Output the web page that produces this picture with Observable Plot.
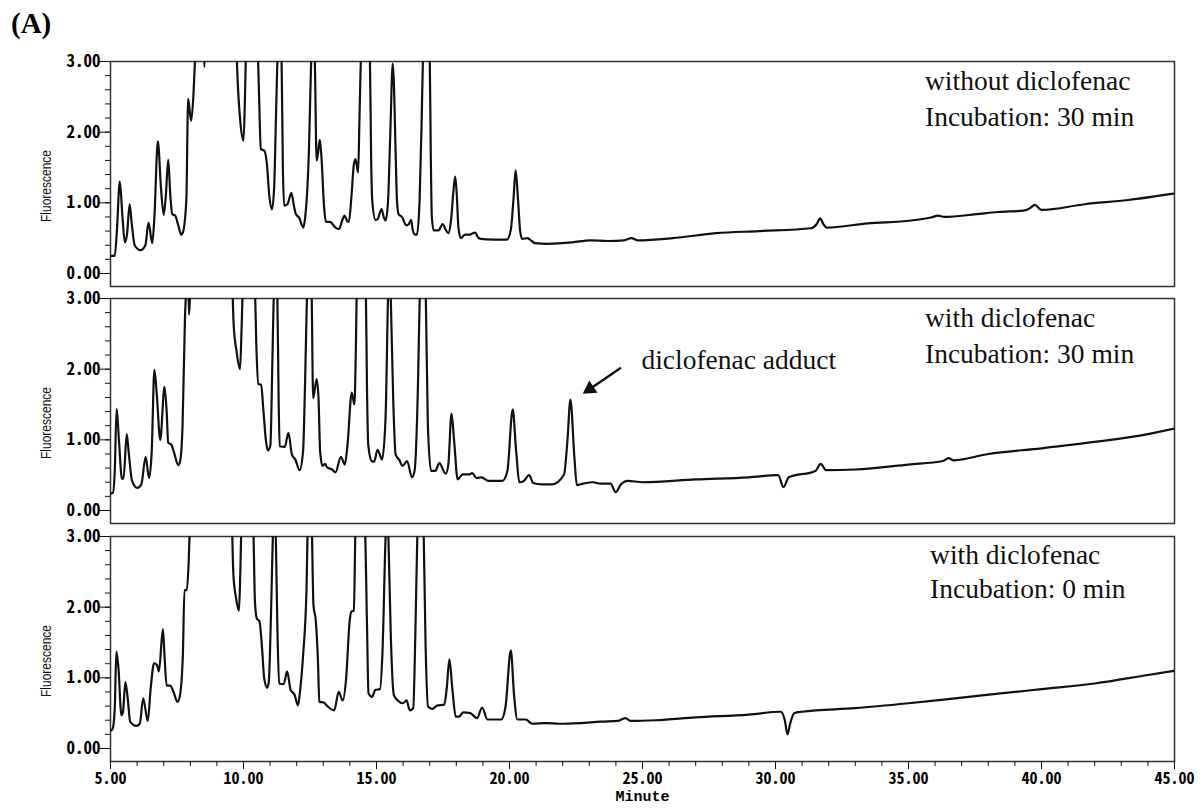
<!DOCTYPE html>
<html><head><meta charset="utf-8">
<script src="https://cdn.jsdelivr.net/npm/d3@7"></script>
<script src="https://cdn.jsdelivr.net/npm/@observablehq/plot@0.6"></script>
<style>
body{margin:0;background:#fff;}
#wrap{position:relative;width:1200px;height:809px;overflow:hidden;background:#fff;}
.panel{position:absolute;left:0;}
#tag{position:absolute;left:11px;top:7px;font:bold 29px "Liberation Serif","Times New Roman",serif;color:#000;}
</style></head><body>
<div id="wrap"><div id="tag">(A)</div></div>
<script>
// ---- data: [retention time (min), fluorescence] ----
const traceWithout30 = [[5.00,0.25],[5.16,0.25],[5.24,0.60],[5.35,1.30],[5.45,0.80],[5.54,0.44],[5.62,0.55],[5.72,0.98],[5.80,0.70],[5.91,0.40],[6.13,0.33],[6.31,0.40],[6.43,0.72],[6.57,0.43],[6.65,0.80],[6.78,1.87],[6.90,1.20],[7.00,0.83],[7.08,1.10],[7.17,1.61],[7.25,1.10],[7.32,0.84],[7.43,0.82],[7.55,0.68],[7.66,0.55],[7.72,0.58],[7.85,1.03],[7.92,2.47],[8.03,2.16],[8.12,2.54],[8.18,3.05],[8.25,3.8],[8.45,3.8],[8.53,2.92],[8.60,3.8],[9.5,4.0],[9.70,3.5],[9.78,2.73],[9.88,2.15],[10.00,1.88],[10.05,2.4],[10.09,3.1],[10.2,4.0],[10.5,3.5],[10.55,3.0],[10.59,2.45],[10.65,1.76],[10.78,1.74],[10.88,1.55],[10.97,1.10],[11.07,0.91],[11.15,1.2],[11.22,2.2],[11.28,3.1],[11.35,3.5],[11.43,3.05],[11.48,1.5],[11.53,0.96],[11.65,0.98],[11.80,1.14],[11.90,0.95],[11.97,0.84],[12.09,0.79],[12.25,0.65],[12.32,0.80],[12.40,1.20],[12.46,1.74],[12.55,3.1],[12.62,3.6],[12.68,3.05],[12.75,1.60],[12.80,1.70],[12.87,1.89],[12.93,1.65],[13.03,0.94],[13.10,0.73],[13.25,0.73],[13.46,0.65],[13.59,0.63],[13.72,0.76],[13.80,0.82],[13.90,0.74],[13.96,0.73],[14.06,1.10],[14.15,1.55],[14.21,1.62],[14.27,1.50],[14.31,1.43],[14.36,2.2],[14.42,3.1],[14.6,3.8],[14.75,3.1],[14.80,1.6],[14.84,1.03],[14.96,0.76],[15.04,0.77],[15.19,0.91],[15.27,0.80],[15.34,0.75],[15.43,1.00],[15.52,2.0],[15.61,2.97],[15.65,2.73],[15.72,1.70],[15.77,1.03],[15.83,0.84],[15.96,0.80],[16.12,0.68],[16.22,0.70],[16.30,0.76],[16.36,0.62],[16.45,0.55],[16.52,0.55],[16.62,1.03],[16.70,2.2],[16.75,3.1],[16.87,3.8],[17.00,3.1],[17.04,1.7],[17.08,0.80],[17.15,0.61],[17.33,0.61],[17.49,0.70],[17.60,0.62],[17.70,0.57],[17.80,0.75],[17.90,1.20],[17.96,1.37],[18.02,1.10],[18.08,0.65],[18.17,0.50],[18.33,0.55],[18.50,0.55],[18.71,0.58],[18.80,0.52],[18.90,0.49],[19.40,0.48],[19.90,0.48],[20.05,0.62],[20.15,1.05],[20.23,1.46],[20.32,1.05],[20.40,0.60],[20.48,0.49],[20.68,0.50],[20.77,0.48],[20.96,0.43],[21.40,0.42],[22.37,0.44],[23.03,0.47],[23.69,0.46],[24.30,0.47],[24.58,0.50],[24.83,0.47],[26.13,0.50],[27.76,0.57],[29.39,0.60],[31.34,0.64],[31.55,0.70],[31.68,0.78],[31.80,0.70],[31.92,0.65],[33.47,0.71],[35.10,0.75],[35.92,0.80],[36.10,0.82],[36.35,0.80],[37.55,0.84],[38.36,0.87],[39.33,0.89],[39.55,0.92],[39.75,0.97],[40.00,0.90],[41.62,0.98],[43.26,1.04],[44.96,1.13]];

const traceWith30 = [[5.00,0.24],[5.09,0.25],[5.16,0.56],[5.23,1.44],[5.32,0.98],[5.43,0.45],[5.49,0.45],[5.61,1.08],[5.68,0.84],[5.81,0.42],[6.01,0.32],[6.16,0.37],[6.32,0.76],[6.45,0.46],[6.55,0.84],[6.65,1.99],[6.74,1.64],[6.87,1.00],[7.03,1.75],[7.11,1.41],[7.17,0.96],[7.29,0.93],[7.39,0.82],[7.55,0.64],[7.62,0.70],[7.71,1.22],[7.80,2.73],[7.84,3.1],[7.90,3.6],[7.95,2.77],[8.00,3.1],[8.2,4.0],[9.4,4.0],[9.59,3.05],[9.63,2.63],[9.74,2.25],[9.87,2.00],[9.93,2.6],[9.97,3.1],[10.2,4.0],[10.43,3.1],[10.49,2.25],[10.56,1.79],[10.66,1.78],[10.75,1.41],[10.84,1.00],[10.92,0.85],[11.01,0.92],[11.08,2.0],[11.14,3.1],[11.2,3.6],[11.27,3.1],[11.32,1.6],[11.36,0.91],[11.55,0.90],[11.69,1.10],[11.82,0.79],[11.95,0.72],[12.11,0.57],[12.24,0.84],[12.32,1.9],[12.39,3.1],[12.48,3.8],[12.56,3.1],[12.62,1.59],[12.75,1.86],[12.82,1.59],[12.88,0.84],[12.97,0.63],[13.07,0.66],[13.14,0.61],[13.33,0.58],[13.46,0.54],[13.66,0.76],[13.81,0.65],[13.91,0.93],[14.07,1.67],[14.17,1.50],[14.22,2.2],[14.26,3.1],[14.45,3.8],[14.60,3.1],[14.64,1.8],[14.69,0.93],[14.82,0.70],[14.91,0.69],[15.04,0.86],[15.21,0.72],[15.34,1.31],[15.44,3.1],[15.49,3.5],[15.53,3.1],[15.63,1.55],[15.72,0.79],[15.85,0.72],[15.98,0.63],[16.15,0.70],[16.33,0.47],[16.43,0.56],[16.56,1.79],[16.63,3.1],[16.75,3.8],[16.85,3.1],[16.93,1.22],[17.05,0.56],[17.21,0.56],[17.36,0.67],[17.60,0.52],[17.70,0.65],[17.82,1.37],[17.92,0.98],[18.05,0.44],[18.24,0.51],[18.48,0.51],[18.60,0.53],[18.76,0.46],[18.95,0.47],[19.21,0.42],[19.73,0.42],[19.92,0.56],[20.12,1.43],[20.25,0.84],[20.37,0.40],[20.54,0.42],[20.74,0.50],[20.89,0.39],[21.21,0.37],[21.60,0.37],[22.05,0.51],[22.18,1.0],[22.29,1.57],[22.44,0.75],[22.53,0.36],[22.76,0.38],[23.15,0.40],[23.41,0.38],[23.80,0.38],[23.99,0.26],[24.19,0.37],[24.44,0.42],[25.0,0.40],[27.0,0.44],[29.0,0.47],[30.1,0.50],[30.3,0.33],[30.5,0.47],[31.5,0.56],[31.7,0.66],[31.9,0.57],[33.0,0.58],[35.0,0.65],[36.3,0.70],[36.5,0.74],[36.7,0.71],[38.0,0.80],[40.0,0.88],[42.0,0.97],[44.0,1.08],[45.0,1.16]];

const traceWith0 = [[5.00,0.25],[5.08,0.28],[5.16,0.57],[5.22,1.37],[5.30,1.13],[5.41,0.47],[5.47,0.52],[5.56,0.94],[5.65,0.70],[5.74,0.38],[5.97,0.32],[6.10,0.35],[6.23,0.71],[6.40,0.39],[6.51,0.85],[6.64,1.21],[6.75,1.18],[6.82,1.09],[6.97,1.69],[7.03,1.32],[7.11,0.89],[7.24,0.89],[7.37,0.80],[7.52,0.66],[7.61,0.75],[7.72,1.32],[7.78,2.24],[7.87,2.24],[7.94,2.65],[7.98,3.1],[8.2,4.0],[9.4,4.0],[9.57,3.1],[9.62,2.46],[9.72,2.13],[9.83,1.95],[9.88,2.5],[9.92,3.1],[10.15,4.0],[10.37,3.1],[10.43,2.08],[10.50,1.84],[10.60,1.80],[10.69,1.46],[10.78,0.99],[10.89,0.86],[10.95,0.94],[11.04,2.0],[11.11,3.1],[11.16,3.5],[11.21,3.1],[11.27,1.78],[11.34,0.92],[11.51,0.91],[11.64,1.09],[11.77,0.83],[11.92,0.76],[12.05,0.61],[12.11,0.76],[12.24,1.32],[12.37,2.27],[12.41,3.1],[12.5,3.8],[12.57,3.1],[12.63,2.03],[12.72,1.80],[12.80,1.23],[12.85,0.66],[13.02,0.65],[13.15,0.60],[13.41,0.54],[13.58,0.80],[13.73,0.68],[13.86,1.0],[13.99,1.80],[14.06,1.94],[14.15,1.95],[14.21,3.1],[14.4,3.8],[14.57,3.1],[14.64,1.80],[14.70,0.78],[14.83,0.73],[14.96,0.83],[15.13,0.84],[15.22,1.32],[15.35,3.1],[15.40,3.5],[15.44,3.1],[15.54,1.56],[15.65,0.76],[15.80,0.68],[15.99,0.64],[16.13,0.68],[16.25,0.54],[16.38,0.57],[16.47,1.80],[16.54,3.1],[16.65,3.8],[16.77,3.1],[16.84,1.56],[16.94,0.59],[17.10,0.56],[17.29,0.61],[17.55,0.62],[17.64,0.85],[17.74,1.26],[17.85,0.85],[17.98,0.45],[18.10,0.45],[18.26,0.51],[18.52,0.50],[18.78,0.43],[18.97,0.58],[19.17,0.41],[19.49,0.41],[19.69,0.41],[19.85,0.59],[20.05,1.39],[20.17,0.76],[20.30,0.41],[20.61,0.41],[20.85,0.35],[21.37,0.36],[21.88,0.35],[22.66,0.36],[23.43,0.38],[24.08,0.39],[24.35,0.43],[24.57,0.39],[25.5,0.40],[27.0,0.44],[29.0,0.48],[30.2,0.52],[30.35,0.40],[30.45,0.20],[30.55,0.35],[30.7,0.50],[31.0,0.52],[33.0,0.57],[35.0,0.64],[37.0,0.72],[39.0,0.80],[40.0,0.84],[42.0,0.92],[44.0,1.04],[45.0,1.10]];

// ---- tick values and labels ----
const yMajorTicks = [0, 1, 2, 3];
const yMinorTicks = [0,0.2,0.4,0.6,0.8,1,1.2,1.4,1.6,1.8,2,2.2,2.4,2.6,2.8,3];
const xMajorTicks = [5,10,15,20,25,30,35,40,45];
const xMinorTicks = d3.range(5, 46, 1);
const yAxisTitle = "Fluorescence";
const xAxisTitle = "Minute";

// ---- annotations (placed in data coordinates) ----
const notesWithout30 = [{t: 35.62, v: 2.96, text: "without diclofenac\nIncubation: 30 min"}];
const notesWith30 = [{t: 35.62, v: 2.96, text: "with diclofenac\nIncubation: 30 min"}];
const notesWith0 = [{t: 35.81, v: 2.95, text: "with diclofenac\nIncubation: 0 min"}];
const adductLabel = [{t: 24.96, v: 2.28, text: "diclofenac adduct"}];
const adductArrow = [{t1: 24.19, v1: 2.02, t2: 23.02, v2: 1.72}];

const MONO = "'Noto Sans Mono CJK JP','DejaVu Sans Mono','Liberation Mono',monospace";
const SERIF = "'Liberation Serif','Times New Roman',serif";
const SANS = "'Liberation Sans',Arial,sans-serif";

function makePanel(trace, notes, lineH, bottom, extra) {
  const marks = [
    Plot.axisY({ticks: yMinorTicks, tickSize: 5, tickFormat: () => "", label: null, stroke: "#111"}),
    Plot.axisY({ticks: yMajorTicks, tickSize: 10, tickPadding: 0, tickFormat: d3.format(".2f"), label: null, stroke: "#111", fill: "#000", fontSize: 17, fontWeight: "bold", fontFamily: MONO}),
    Plot.frame({stroke: "#333", strokeWidth: 1.5}),
    Plot.line(trace, {x: d => d[0], y: d => d[1], stroke: "#111", strokeWidth: 2.2, curve: "monotone-x", clip: true}),
    Plot.text(notes, {x: "t", y: "v", text: "text", textAnchor: "start", lineAnchor: "top", fontFamily: SERIF, fontSize: 27.5, lineHeight: lineH, fill: "#111"}),
    Plot.text([yAxisTitle], {frameAnchor: "left", dx: -64, dy: 48, rotate: -90, textAnchor: "start", fontFamily: SANS, fontSize: 15, fill: "#111"}),
    ...extra
  ];
  if (bottom) {
    marks.push(
      Plot.axisX({ticks: xMinorTicks, tickSize: 5, tickFormat: () => "", label: null, stroke: "#111"}),
      Plot.axisX({ticks: xMajorTicks, tickSize: 8, tickPadding: 3, tickFormat: d3.format(".2f"), label: null, stroke: "#111", fill: "#000", fontSize: 16, fontWeight: "bold", fontFamily: MONO}),
      Plot.text([xAxisTitle], {frameAnchor: "bottom", dy: 39, fontFamily: "'Liberation Mono','DejaVu Sans Mono',monospace", fontWeight: "bold", fontSize: 15, fill: "#000"})
    );
  }
  const svg = Plot.plot({
    width: 1200,
    height: bottom ? 293 : 247,
    marginLeft: 110,
    marginRight: 26,
    marginTop: 20,
    marginBottom: bottom ? 48 : 2,
    style: {background: "transparent", color: "#111", fontFamily: MONO, fontSize: "16px"},
    x: {domain: [5, 45], axis: bottom ? undefined : null},
    y: {domain: [-0.184, 3]},
    marks
  });
  // condensed look of the rotated axis title, as in the reference
  svg.querySelectorAll("text").forEach(t => {
    if (t.textContent === yAxisTitle) {
      t.setAttribute("textLength", "72");
      t.setAttribute("lengthAdjust", "spacingAndGlyphs");
    }
  });
  return svg;
}

const wrap = document.getElementById("wrap");
function place(el, top) {
  const d = document.createElement("div");
  d.className = "panel";
  d.style.top = top + "px";
  d.appendChild(el);
  wrap.appendChild(d);
}

place(makePanel(traceWithout30, notesWithout30, 1.31, false, []), 41);
place(makePanel(traceWith30, notesWith30, 1.31, false, [
  Plot.text(adductLabel, {x: "t", y: "v", text: "text", textAnchor: "start", lineAnchor: "top", fontFamily: SERIF, fontSize: 27.5, fill: "#111"}),
  Plot.link(adductArrow, {x1: "t1", y1: "v1", x2: "t2", y2: "v2", stroke: "#111", strokeWidth: 2.5}),
  Plot.dot(adductArrow, {x: "t2", y: "v2", symbol: "triangle", r: 5.5, fill: "#111", stroke: "none", rotate: 236})
]), 278);
place(makePanel(traceWith0, notesWith0, 1.24, true, []), 516);
</script>
</body></html>
